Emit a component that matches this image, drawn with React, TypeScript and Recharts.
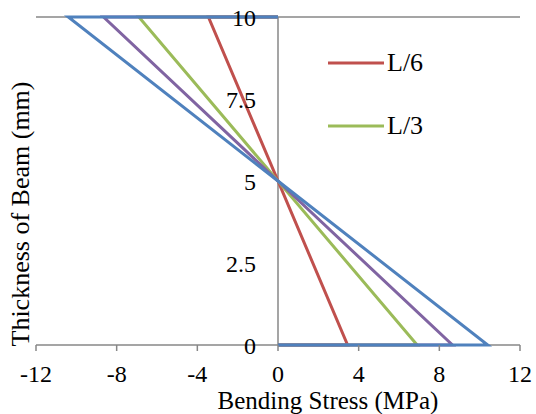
import {
  LineChart,
  Line,
  XAxis,
  YAxis,
  CartesianGrid,
  ReferenceDot,
  Legend,
} from "recharts";

const thickness = [10, 10, 0, 0];
const stressL6 = [0, -3.45, 3.45, 0];
const stressL3 = [0, -6.9, 6.9, 0];
const stressL24 = [0, -8.65, 8.65, 0];
const stressL2 = [0, -10.4, 10.4, 0];

const xTicks = [-12, -8, -4, 0, 4, 8, 12];
const yTicks = [0, 2.5, 5, 7.5, 10];

const series = [
  { name: "L/6", values: stressL6, color: "#C0504D", legend: true },
  { name: "L/3", values: stressL3, color: "#9BBB59", legend: true },
  { name: "L/2.4", values: stressL24, color: "#8064A2", legend: false },
  { name: "L/2", values: stressL2, color: "#4F81BD", legend: false },
];

const toPoints = (values: number[]) =>
  values.map((x, i) => ({ x, y: thickness[i] }));

const FONT = "Liberation Serif, Tinos, DejaVu Serif, Times, serif";
const GRID = "#878787";
const tickTxt = { fontFamily: FONT, fontSize: 24, fill: "#000" };
const titleTxt = { fontFamily: FONT, fontSize: 25, fill: "#000" };

// only the first two entries are visible in the original legend box
function LegendBox() {
  const shown = series.filter((s) => s.legend);
  return (
    <div style={{ fontFamily: FONT, fontSize: 26, color: "#000" }}>
      {shown.map((s) => (
        <div
          key={s.name}
          style={{ display: "flex", alignItems: "center", height: 63 }}
        >
          <svg width={56} height={6} style={{ marginRight: 3 }}>
            <line x1={0} y1={3} x2={56} y2={3} stroke={s.color} strokeWidth={3} />
          </svg>
          <span>{s.name}</span>
        </div>
      ))}
    </div>
  );
}

export default function App() {
  return (
    <div style={{ position: "absolute", left: 0, top: 0, background: "#fff" }}>
      <LineChart
        width={536}
        height={414}
        margin={{ top: 17, right: 16, bottom: 0, left: 0 }}
        style={{ fontFamily: FONT }}
      >
        <CartesianGrid
          vertical={true}
          verticalValues={[0]}
          stroke={GRID}
          strokeWidth={1.5}
        />
        <XAxis
          type="number"
          dataKey="x"
          domain={[-12, 12]}
          ticks={xTicks}
          height={69}
          axisLine={false}
          tickLine={{ stroke: GRID, strokeWidth: 1.5 }}
          tickSize={6}
          tickMargin={14}
          tick={tickTxt}
          label={{
            value: "Bending Stress (MPa)",
            position: "insideBottom",
            offset: 5,
            dx: 50,
            ...titleTxt,
          }}
        />
        <YAxis
          type="number"
          dataKey="y"
          domain={[0, 10]}
          ticks={yTicks}
          width={36}
          tick={false}
          axisLine={false}
          tickLine={false}
          label={{
            value: "Thickness of Beam (mm)",
            angle: -90,
            position: "center",
            dx: 2,
            dy: 33,
            ...titleTxt,
            fontSize: 26,
          }}
        />
        {yTicks.map((v) => (
          <ReferenceDot
            key={v}
            x={0}
            y={v}
            r={0}
            fill="none"
            stroke="none"
            label={{ value: v, position: "left", offset: 22, ...tickTxt }}
          />
        ))}
        {series.map((s) => (
          <Line
            key={s.name}
            data={toPoints(s.values)}
            dataKey="y"
            name={s.name}
            stroke={s.color}
            strokeWidth={3}
            dot={false}
            legendType={s.legend ? "line" : "none"}
            isAnimationActive={false}
          />
        ))}
        <Legend
          layout="vertical"
          align="center"
          verticalAlign="middle"
          content={LegendBox}
          wrapperStyle={{ left: 328, top: 31, width: "auto" }}
        />
      </LineChart>
    </div>
  );
}
